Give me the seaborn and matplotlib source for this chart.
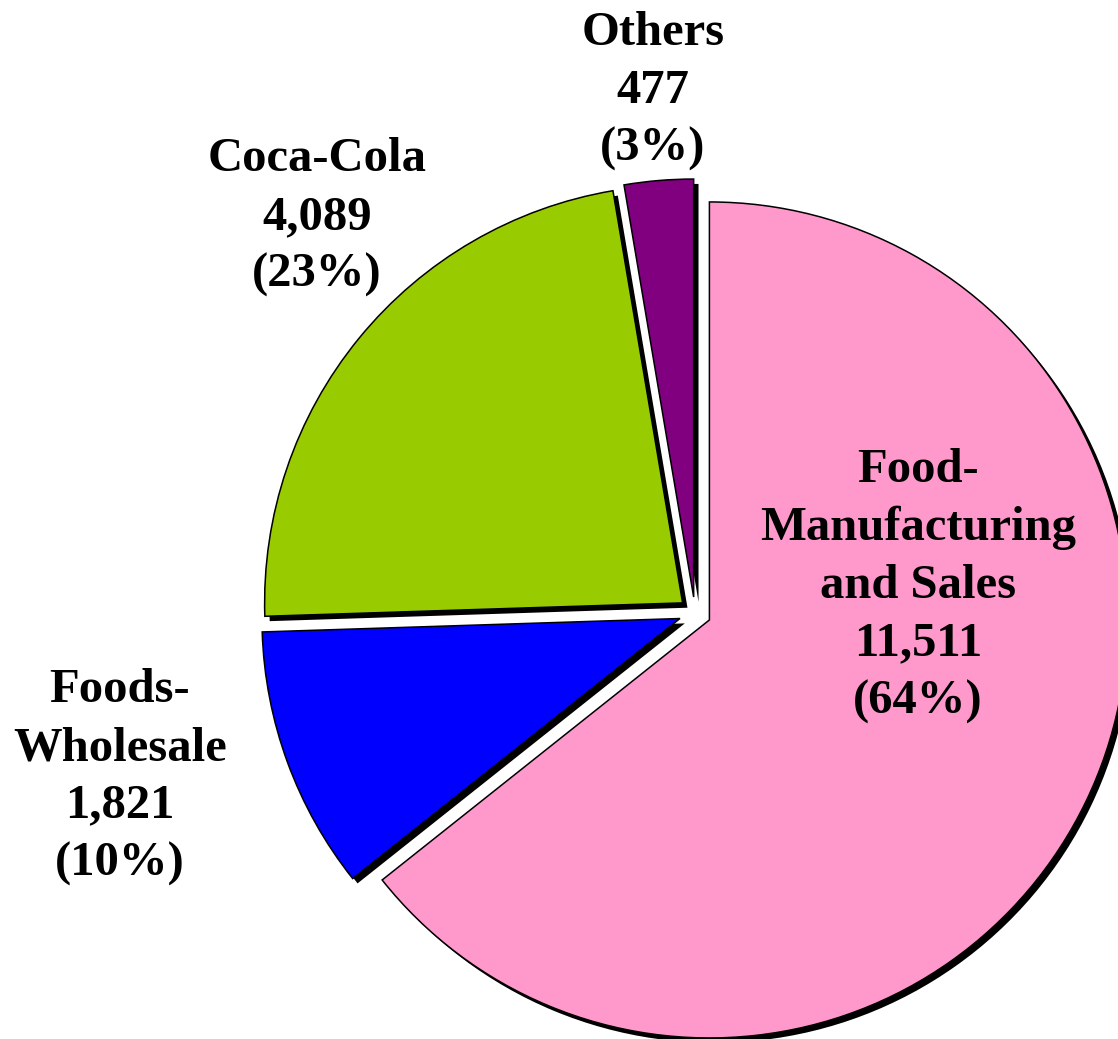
import matplotlib
matplotlib.use("Agg")
import matplotlib.pyplot as plt
import matplotlib.patheffects as pe
import seaborn as sns

# Segment data (sales)
segments = ["Food-\nManufacturing\nand Sales", "Foods-\nWholesale", "Coca-Cola", "Others"]
sales = [11511, 1821, 4089, 477]
colors = ["#FF99CC", "#0000FF", "#99CC00", "#800080"]

sns.set_theme(style="white")
plt.rcParams["font.family"] = ["Liberation Serif", "DejaVu Serif"]

W, H = 1118, 1039
fig = plt.figure(figsize=(W / 100, H / 100), dpi=100)
ax = fig.add_axes([0, 0, 1, 1])

shadow = [pe.SimplePatchShadow(offset=(3.5, -3.5), shadow_rgbFace="black", alpha=1.0), pe.Normal()]
wedges, _ = ax.pie(
    sales,
    colors=colors,
    startangle=90,
    counterclock=False,
    explode=[16] * len(sales),  # in pixel/data units
    radius=418,
    center=(695, H - 613),
    wedgeprops=dict(edgecolor="black", linewidth=1.1, path_effects=shadow),
    frame=True,
)

ax.set_xlim(0, W)
ax.set_ylim(0, H)
ax.set_aspect("equal")
ax.axis("off")

# label positions in pixels (x, y from top)
label_pos = [(918, 586), (120, 777), (317, 217), (653, 91)]
total = sum(sales)
for name, val, (x, y) in zip(segments, sales, label_pos):
    txt = f"{name}\n{val:,}\n({round(100 * val / total)}%)"
    ax.text(x, H - y, txt, ha="center", va="center", multialignment="center",
            fontsize=35, fontweight="bold", color="black", linespacing=1.4)

fig.savefig("out.png", dpi=100)
